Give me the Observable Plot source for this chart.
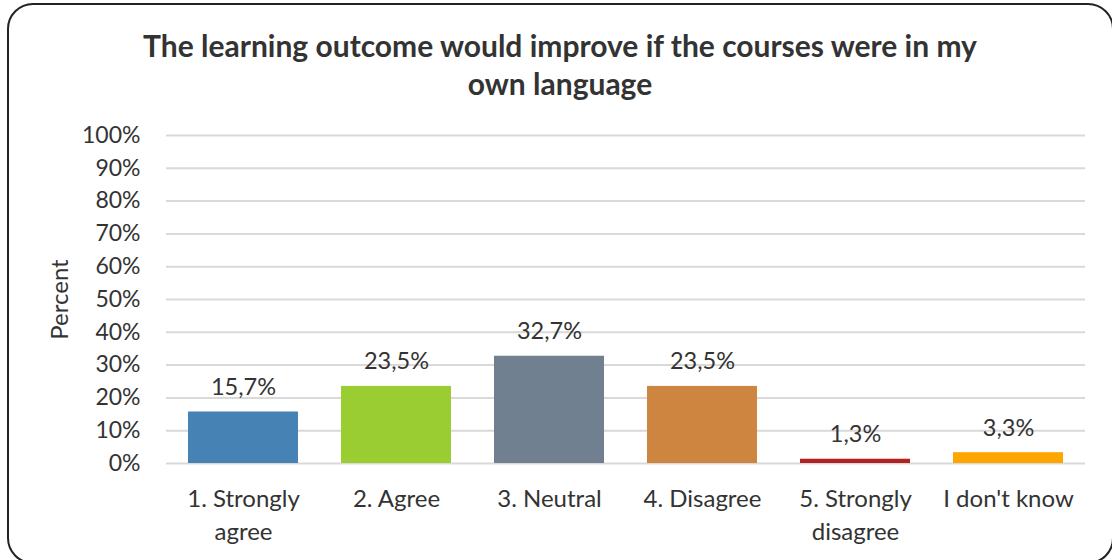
<!DOCTYPE html>
<html>
<head>
<meta charset="utf-8">
<script src="https://cdn.jsdelivr.net/npm/d3@7"></script>
<script src="https://cdn.jsdelivr.net/npm/@observablehq/plot@0.6"></script>
<style>
  html, body { margin: 0; padding: 0; background: #fff; }
  #wrap { position: relative; width: 1112px; height: 560px; overflow: hidden; font-family: Lato, "Open Sans", sans-serif; }
  #frame { position: absolute; left: 7px; top: 3px; width: 1107px; height: 561px; border: 2px solid #222; border-radius: 26px; box-sizing: border-box; }
  #title { position: absolute; left: 0; top: 26px; width: 1120px; text-align: center; font-weight: bold; font-size: 30px; line-height: 38px; color: #333; }
  #chart { position: absolute; left: 0; top: 0; }
</style>
</head>
<body>
<div id="wrap">
  <div id="chart"></div>
  <div id="frame"></div>
  <div id="title">The learning outcome would improve if the courses were in my<br>own language</div>
</div>
<script>
const categories = ["1. Strongly agree", "2. Agree", "3. Neutral", "4. Disagree", "5. Strongly disagree", "I don't know"];
const tickLabels = ["1. Strongly\nagree", "2. Agree", "3. Neutral", "4. Disagree", "5. Strongly\ndisagree", "I don't know"];
const values = [15.7, 23.5, 32.7, 23.5, 1.3, 3.3];
const valueLabels = ["15,7%", "23,5%", "32,7%", "23,5%", "1,3%", "3,3%"];
const colors = ["steelblue", "yellowgreen", "slategray", "peru", "firebrick", "orange"];
const yTicks = [0, 10, 20, 30, 40, 50, 60, 70, 80, 90, 100];

const data = categories.map((c, i) => ({cat: c, value: values[i], label: valueLabels[i], color: colors[i]}));
const tickMap = new Map(categories.map((c, i) => [c, tickLabels[i]]));

const chart = Plot.plot({
  width: 1112,
  height: 560,
  marginTop: 135,
  marginBottom: 97,
  marginLeft: 166,
  marginRight: 27,
  style: {fontFamily: "Lato, 'Open Sans', sans-serif", color: "#333", background: "transparent"},
  x: {domain: categories, paddingInner: 0.28, paddingOuter: 0.14, label: null},
  y: {domain: [0, 100], label: null},
  color: {type: "identity"},
  marks: [
    Plot.gridY(yTicks, {stroke: "#d9d9d9", strokeOpacity: 1, strokeWidth: 2}),
    Plot.axisY(yTicks, {tickSize: 0, tickPadding: 26, tickFormat: d => d + "%", fontSize: 23, fill: "#333", label: null}),
    Plot.axisX({tickSize: 0, tickPadding: 20, tickFormat: d => tickMap.get(d), fontSize: 24, lineHeight: 1.38, fill: "#333", label: null}),
    Plot.barY(data, {x: "cat", y: "value", fill: "color"}),
    Plot.text(data, {x: "cat", y: "value", text: "label", lineAnchor: "bottom", dy: -17, fontSize: 23.5, fill: "#333"}),
    Plot.text(["Percent"], {frameAnchor: "left", text: d => d, rotate: -90, textAnchor: "middle", dx: -106, fontSize: 24, fill: "#333"})
  ]
});
document.getElementById("chart").appendChild(chart);
</script>
</body>
</html>
